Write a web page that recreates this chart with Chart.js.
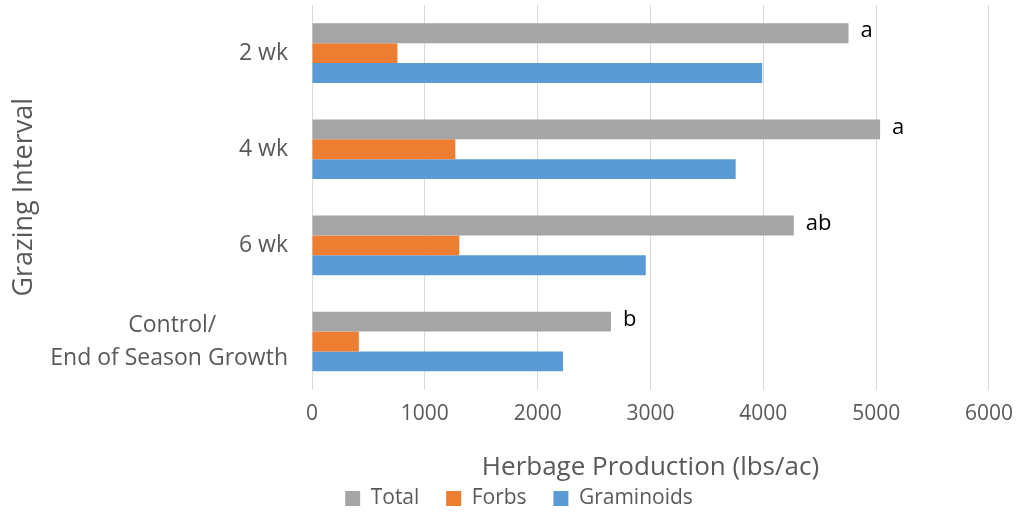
<!DOCTYPE html>
<html lang="en">
  <head>
    <meta charset="UTF-8" />
    <title>Herbage Production by Grazing Interval</title>
    <style>
      * {
        box-sizing: border-box;
        margin: 0;
        padding: 0;
      }
      body {
        background: #ffffff;
        width: 1025px;
        height: 514px;
        overflow: hidden;
      }
    </style>
    <script src="https://cdn.jsdelivr.net/npm/chart.js"></script>
  </head>
  <body>
    <canvas id="herbageChart" width="1025" height="514"></canvas>
    <script>
      // categories, top to bottom
      const intervals = [
        "2 wk",
        "4 wk",
        "6 wk",
        ["Control/            ", "End of Season Growth"],
      ];
      const total = [4755, 5035, 4270, 2650];
      const forbs = [757, 1270, 1305, 415];
      const graminoids = [3990, 3755, 2958, 2225];
      const letters = ["a", "a", "ab", "b"];
      const xTicks = [0, 1000, 2000, 3000, 4000, 5000, 6000];

      const font = "'Open Sans', 'Noto Sans', sans-serif";
      const grey = "#595959";

      // letters to the right of the Total bars
      const letterPlugin = {
        id: "letters",
        afterDatasetsDraw(chart) {
          const ctx = chart.ctx;
          const meta = chart.getDatasetMeta(0);
          ctx.save();
          ctx.font = "22px " + font;
          ctx.fillStyle = "#000000";
          ctx.textAlign = "left";
          ctx.textBaseline = "middle";
          meta.data.forEach((bar, i) => {
            ctx.fillText(letters[i], bar.x + 12, bar.y - 2);
          });
          ctx.restore();
        },
      };

      // legend sits a little right of the chart centre in the original
      const legendShift = {
        id: "legendShift",
        afterLayout(chart) {
          if (chart.legend) {
            chart.legend.left += 20;
            chart.legend.right += 20;
          }
        },
      };

      new Chart(document.getElementById("herbageChart"), {
        type: "bar",
        data: {
          labels: intervals,
          datasets: [
            { label: "Total", data: total, backgroundColor: "#A5A5A5" },
            { label: "Forbs", data: forbs, backgroundColor: "#ED7D31" },
            { label: "Graminoids", data: graminoids, backgroundColor: "#5B9BD5" },
          ],
        },
        options: {
          indexAxis: "y",
          responsive: false,
          animation: false,
          devicePixelRatio: 1,
          datasets: {
            bar: { categoryPercentage: 0.62, barPercentage: 1.0 },
          },
          layout: {
            padding: { top: 5, right: 35, left: 8, bottom: -5 },
          },
          scales: {
            x: {
              min: 0,
              max: 6000,
              afterBuildTicks(scale) {
                scale.ticks = xTicks.map((v) => ({ value: v }));
              },
              grid: { color: "#D9D9D9", lineWidth: 1, drawTicks: false },
              border: { display: false },
              ticks: {
                color: grey,
                padding: 12,
                font: { family: font, size: 21 },
                callback: (v) => String(v),
              },
              title: {
                display: true,
                text: "Herbage Production (lbs/ac)",
                color: grey,
                font: { family: font, size: 26 },
                padding: { top: 13, bottom: 0 },
              },
            },
            y: {
              afterFit(scale) {
                scale.width = 304;
                scale.paddingTop = 0;
                scale.paddingBottom = 0;
              },
              grid: { display: false, drawTicks: false },
              border: { display: false },
              ticks: {
                color: grey,
                padding: 24,
                font: { family: font, size: 23, lineHeight: 1.43 },
              },
              title: {
                display: true,
                text: "Grazing Interval",
                color: grey,
                font: { family: font, size: 27 },
                padding: { top: 0, bottom: 4 },
              },
            },
          },
          plugins: {
            legend: {
              position: "bottom",
              labels: {
                color: grey,
                boxWidth: 15,
                boxHeight: 15,
                padding: 5,
                font: { family: font, size: 21 },
                // wider gaps between the legend entries
                generateLabels(chart) {
                  const items =
                    Chart.defaults.plugins.legend.labels.generateLabels(chart);
                  items.forEach((item, i) => {
                    if (i < items.length - 1) item.text += "    ";
                  });
                  return items;
                },
              },
            },
            tooltip: { enabled: false },
          },
        },
        plugins: [letterPlugin, legendShift],
      });
    </script>
  </body>
</html>
